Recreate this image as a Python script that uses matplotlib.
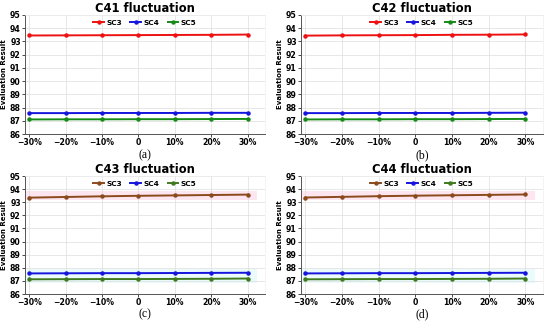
import matplotlib
matplotlib.use("Agg")
import matplotlib.pyplot as plt

x = [-30, -20, -10, 0, 10, 20, 30]
xticklabels = ["\u221230%", "\u221220%", "\u221210%", "0", "10%", "20%", "30%"]
series_names = ["SC3", "SC4", "SC5"]

c41_sc3 = [93.45, 93.46, 93.47, 93.48, 93.49, 93.50, 93.52]
c41_sc4 = [87.58, 87.58, 87.59, 87.59, 87.59, 87.60, 87.60]
c41_sc5 = [87.10, 87.11, 87.11, 87.12, 87.12, 87.13, 87.14]

c42_sc3 = [93.44, 93.46, 93.47, 93.48, 93.50, 93.51, 93.53]
c42_sc4 = [87.58, 87.58, 87.59, 87.59, 87.59, 87.60, 87.61]
c42_sc5 = [87.10, 87.11, 87.11, 87.12, 87.12, 87.13, 87.14]

c43_sc3 = [93.35, 93.40, 93.45, 93.49, 93.52, 93.55, 93.58]
c43_sc4 = [87.57, 87.58, 87.59, 87.59, 87.60, 87.61, 87.62]
c43_sc5 = [87.12, 87.13, 87.14, 87.14, 87.15, 87.16, 87.18]

c44_sc3 = [93.36, 93.41, 93.46, 93.50, 93.53, 93.56, 93.59]
c44_sc4 = [87.57, 87.58, 87.59, 87.59, 87.60, 87.61, 87.62]
c44_sc5 = [87.12, 87.13, 87.14, 87.14, 87.15, 87.16, 87.18]

titles = ["C41 fluctuation", "C42 fluctuation", "C43 fluctuation", "C44 fluctuation"]
captions = ["(a)", "(b)", "(c)", "(d)"]

panels = [
    (c41_sc3, c41_sc4, c41_sc5),
    (c42_sc3, c42_sc4, c42_sc5),
    (c43_sc3, c43_sc4, c43_sc5),
    (c44_sc3, c44_sc4, c44_sc5),
]

colors_top = ["#ee1111", "#1515dd", "#168a16"]
colors_bot = ["#8b4a1c", "#1515dd", "#3f7a1e"]

# axes rectangles in pixels: left, top, right, bottom
W, H = 550, 322
boxes = [
    (25, 15, 265, 134),
    (301, 15, 543, 134),
    (25, 176, 265, 294),
    (301, 176, 543, 294),
]

fig = plt.figure(figsize=(W / 100, H / 100), dpi=100)
fig.patch.set_facecolor("white")

for i, (box, data, title, cap) in enumerate(zip(boxes, panels, titles, captions)):
    l, t, r, b = box
    ax = fig.add_axes([l / W, 1 - b / H, (r - l) / W, (b - t) / H])
    cols = colors_top if i < 2 else colors_bot

    if i >= 2:
        # faint uncertainty bands
        xb = [x[0] - 1.2, x[-1] + 2.5]
        ax.fill_between(xb, min(data[0]) - 0.2, max(data[0]) + 0.3,
                        color="#fde6f0", lw=0, zorder=0)
        ax.fill_between(xb, min(data[2]) - 0.3, max(data[1]) + 0.25,
                        color="#ebfbfb", lw=0, zorder=0)

    for vals, name, c in zip(data, series_names, cols):
        ax.plot(x, vals, "-", marker="o", color=c, lw=1.4, ms=2.2, label=name)

    ax.set_xlim(-31.2, 34.8)
    ax.set_ylim(86, 95)
    ax.set_yticks(range(86, 96))
    ax.set_xticks(x)
    ax.set_xticklabels(xticklabels)
    ax.tick_params(labelsize=5.6, length=2, width=0.5, pad=1)
    for lab in ax.get_xticklabels() + ax.get_yticklabels():
        lab.set_fontweight("bold")
    ax.grid(True, color="#dddddd", lw=0.5)
    ax.set_axisbelow(True)
    for s in ["top", "right"]:
        ax.spines[s].set_color("#eeeeee")
        ax.spines[s].set_linewidth(0.5)
    for s in ["left", "bottom"]:
        ax.spines[s].set_color("#555555")
        ax.spines[s].set_linewidth(0.7)

    ax.set_ylabel("Evaluation Result", fontsize=5, fontweight="bold", labelpad=2)
    ax.set_title(title, fontsize=8.3, fontweight="bold", pad=1.5)
    ax.legend(loc="upper center", ncol=3, frameon=False,
              handlelength=1.4, columnspacing=1.1, handletextpad=0.4,
              borderaxespad=0.2, prop={"weight": "bold", "size": 5.3})
    ax.text(0.5, -0.175, cap, transform=ax.transAxes, ha="center", va="center",
            fontsize=8.5, family="Liberation Serif")

fig.savefig("out.png", dpi=100, facecolor="white")
